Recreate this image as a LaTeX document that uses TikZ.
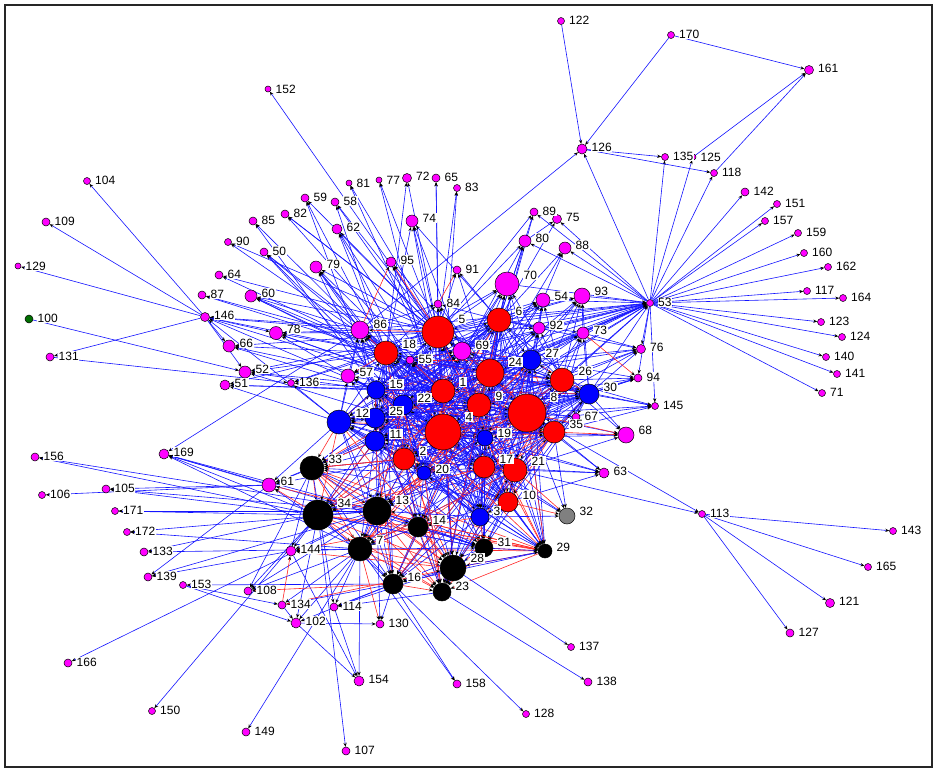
\documentclass[tikz,border=0pt]{standalone}
\usepackage{fontspec}
\setmainfont{Liberation Sans}
\usetikzlibrary{arrows.meta}
\definecolor{dgreen}{RGB}{0,110,0}
\definecolor{pinkn}{RGB}{255,0,255}
\definecolor{rede}{RGB}{255,40,40}
\definecolor{bluee}{RGB}{20,20,255}
\pgfdeclarelayer{edges}
\pgfsetlayers{edges,main}
\tikzset{
  nd/.style={circle,draw=black,line width=0.5pt,inner sep=0pt},
  lbl/.style={anchor=base west,fill=white,inner sep=0.5pt,font=\fontsize{12}{12}\selectfont},
  be/.style={draw=bluee,line width=0.6pt,->},
  re/.style={draw=rede,line width=0.6pt,->},
  frame/.style={draw=black!85,line width=2pt},
}
\def\nodelist{
5/438/332/16/red, 6/499/320/12/red, 18/386/353/12/red, 1/443/391/12/red, 24/490/373/14/red, 9/479/405/12/red, 4/443/432/18/red, 8/527/413/19/red, 26/562/380/12/red, 35/554/432/11/red, 2/404/459/11/red, 17/484/467/11/red, 21/515/470/12/red, 10/508/502/10/red,
15/376/390/9/blue, 22/403/405/10/blue, 25/375/418/10/blue, 12/339/422/12/blue, 11/375/441/10/blue, 27/531/360/10/blue, 30/589/394/10/blue, 19/485/438/8/blue, 20/424/473/7/blue, 3/480/517/9/blue,
33/312/468/12/black, 34/318/515/15/black, 13/377/511/14/black, 14/418/527/10/black, 7/360/549/12/black, 31/484/548/9/black, 29/545/551/7/black, 28/453/568/13/black, 16/393/584/10/black, 23/442/592/9/black,
32/567/516/8/gray, 100/29/319/4/dgreen,
55/410/360/4/pinkn, 57/348/376/7/pinkn, 69/462/351/9/pinkn, 84/438/304/4/pinkn, 86/360/330/9/pinkn, 70/507/284/12/pinkn, 54/543/300/7/pinkn, 93/582/296/8/pinkn, 92/539/328/6/pinkn, 73/583/333/6/pinkn, 67/576/417/4/pinkn, 68/626/435/8/pinkn, 63/604/473/5/pinkn, 76/641/349/4.5/pinkn, 94/638/378/4/pinkn, 145/655/406/3.5/pinkn, 53/650/303/3.5/pinkn,
61/269/485/7/pinkn, 144/291/551/5/pinkn, 108/248/591/4/pinkn, 134/282/605/4/pinkn, 102/296/623/5/pinkn, 114/334/607/4/pinkn, 130/380/624/4/pinkn, 154/359/681/5/pinkn, 158/457/684/4/pinkn, 107/346/751/4/pinkn, 128/526/714/3.5/pinkn, 137/571/647/3.5/pinkn, 138/588/682/4/pinkn, 149/246/732/4/pinkn, 150/152/711/3.5/pinkn, 166/68/663/4/pinkn, 139/148/577/4/pinkn, 153/183/585/3.5/pinkn, 133/144/552/4/pinkn, 172/127/532/3.5/pinkn, 171/115/511/3.5/pinkn, 105/106/489/4/pinkn, 106/42/495/3.5/pinkn, 156/35/457/4/pinkn, 169/164/454/5/pinkn,
51/225/385/5/pinkn, 52/245/372/6/pinkn, 136/291/383/3.5/pinkn, 66/229/346/6/pinkn, 131/50/357/4/pinkn, 146/205/317/4.5/pinkn, 78/276/333/6.5/pinkn, 87/202/295/4/pinkn, 60/251/296/6/pinkn, 64/219/275/4/pinkn, 90/228/242/3.5/pinkn, 50/264/252/4/pinkn, 85/253/221/4/pinkn, 82/285/214/4/pinkn, 59/305/198/4/pinkn, 58/335/202/4/pinkn, 62/337/229/5/pinkn, 81/349/183/3/pinkn, 77/379/180/3/pinkn, 72/407/178/4.5/pinkn, 65/436/178/4/pinkn, 83/457/188/3.5/pinkn, 74/412/221/6/pinkn, 79/316/267/6/pinkn, 95/391/262/5/pinkn, 91/457/270/4/pinkn,
89/534/212/4/pinkn, 75/557/219/4.5/pinkn, 80/525/241/6/pinkn, 88/565/248/6/pinkn, 122/561/21/3.5/pinkn, 170/671/35/3.5/pinkn, 161/809/70/4.5/pinkn, 126/582/149/5/pinkn, 135/665/157/3.5/pinkn, 125/693/157/3/pinkn, 118/714/173/3.5/pinkn, 142/745/192/4/pinkn, 151/777/204/3.5/pinkn, 157/765/221/3.5/pinkn, 159/798/233/3.5/pinkn, 160/804/253/3.5/pinkn, 162/828/267/3.5/pinkn, 117/807/291/3.5/pinkn, 164/843/298/3.5/pinkn, 123/821/322/3.5/pinkn, 124/842/337/3.5/pinkn, 140/826/357/3.5/pinkn, 141/837/374/3.5/pinkn, 71/822/393/3.5/pinkn, 113/702/514/3.5/pinkn, 143/893/531/3.5/pinkn, 165/868/567/3.5/pinkn, 121/830/603/4.5/pinkn, 127/790/633/4/pinkn,
104/87/181/3.5/pinkn, 109/46/222/4/pinkn, 129/18/266/3/pinkn, 152/268/89/3/pinkn}
\def\core{5,6,18,1,24,9,4,8,26,35,2,17,21,10,15,22,25,12,11,27,30,19,20,3,69,55}
\def\corex{5,6,18,1,24,9,4,8,26,35,2,17,21,10,15,22,25,12,11,27,30,19,20,3}
\def\blk{33,34,13,14,7,31,29,28,16,23}
\begin{document}
\begin{tikzpicture}[x=1pt,y=-1pt,>={Stealth[length=4pt,width=3.2pt,color=black]}]
\useasboundingbox (0,0) rectangle (934,772);
\draw[frame] (5,5) rectangle (932,767);
% vertices
\foreach \n/\x/\y/\r/\c in \nodelist {
  \node[nd,fill=\c,minimum size={(2*\r)*1pt}] (n\n) at (\x,\y) {};
}
% labels
\foreach \n/\x/\y/\r/\c in \nodelist {
  \node[lbl] (l\n) at ({\x+\r+4},{\y+7-\r}) {\n};
}
\begin{pgfonlayer}{edges}
% dense core
\foreach \a [count=\i] in \core {
  \foreach \b [count=\j] in \core {
    \ifnum\i<\j
      \pgfmathtruncatemacro\eM{mod(\i*7+\j*5,5)}
      \pgfmathtruncatemacro\eP{mod(\i+\j,2)}
      \ifnum\eP=0 \edef\eA{\a}\edef\eB{\b}\else\edef\eA{\b}\edef\eB{\a}\fi
      \ifnum\eM=0 \draw[re] (n\eA) -- (n\eB);\else \draw[be] (n\eA) -- (n\eB);\fi
    \fi
  }
}
% black cluster
\foreach \a [count=\i] in \blk {
  \foreach \b [count=\j] in \blk {
    \ifnum\i<\j
      \pgfmathtruncatemacro\eM{mod(\i*3+\j,3)}
      \ifnum\eM=0 \draw[be] (n\a) -- (n\b);\else \draw[re] (n\a) -- (n\b);\fi
    \fi
  }
}
% core to black
\foreach \a [count=\i] in \corex {
  \foreach \b [count=\j] in \blk {
    \pgfmathtruncatemacro\eM{mod(\i+\j,3)}
    \pgfmathtruncatemacro\eR{mod(\i*\j+\i,7)}
    \ifnum\eM=0 \draw[be] (n\a) -- (n\b);\fi
    \ifnum\eR=1 \draw[re] (n\a) -- (n\b);\fi
  }
}
% periphery and pink nodes
\foreach \a/\b in {5/152, 5/81, 1/81, 5/77, 4/77, 5/72, 18/72, 5/65, 84/65, 5/83, 1/83,
 5/74, 18/74, 69/74, 6/74, 1/74, 5/79, 18/79, 1/79, 15/79, 86/79, 4/79,
 1/95, 24/95, 9/95, 5/91, 6/91, 24/91, 18/62, 5/62, 1/62, 4/62, 18/58, 5/58, 9/58,
 5/59, 18/59, 15/59, 5/82, 1/82, 24/82, 18/85, 15/85, 5/90, 1/90,
 18/50, 1/50, 22/50, 4/50, 5/64, 18/64, 18/87, 24/87, 5/60, 18/60, 1/60, 86/60, 9/60,
 5/146, 18/146, 86/146, 15/146, 12/146, 1/146,
 146/104, 146/109, 146/129, 146/131, 146/66, 146/52, 146/78,
 5/78, 18/78, 1/78, 86/78, 4/78, 9/78, 5/66, 18/66, 15/66, 1/66,
 100/52, 5/52, 18/52, 1/52, 15/52, 4/52, 5/51, 15/51, 12/51, 1/51,
 131/136, 12/136, 5/136, 1/136, 18/136,
 61/169, 34/169, 13/169, 7/169, 14/169, 86/169,
 34/156, 13/156, 61/106, 13/105, 34/105, 61/105, 34/171, 13/171, 13/172, 7/172, 7/133, 34/133,
 61/139, 144/139, 13/139, 153/102, 153/134, 16/153, 13/166, 34/150, 7/149, 34/107,
 34/144, 13/144, 7/144, 33/144, 13/108, 14/108, 34/108, 33/108, 16/134, 7/134,
 134/102, 7/102, 16/102, 34/102, 16/114, 23/114, 28/114, 7/114, 33/114,
 13/130, 102/130, 16/130, 7/154, 114/154, 144/154, 102/154,
 16/158, 7/158, 16/128, 28/137, 23/138,
 53/126, 53/135, 53/125, 53/118, 53/142, 53/151, 53/157, 53/159, 53/160, 53/162, 53/117, 53/164,
 53/123, 53/124, 53/140, 53/141, 53/71, 53/89, 53/88, 53/75, 53/80, 53/76, 53/94, 53/145,
 122/126, 170/126, 86/126, 126/135, 126/118, 170/161, 125/161, 118/161,
 5/89, 6/89, 24/89, 6/75, 80/75, 5/80, 6/80, 1/80, 24/80, 6/88, 54/88, 24/88,
 8/113, 21/113, 113/143, 113/165, 113/121, 113/127,
 17/32, 3/32, 4/32, 8/32, 35/32, 31/29, 28/29, 3/29, 21/29, 10/29, 17/29,
 14/31, 13/31, 34/31, 17/31, 10/31, 33/61, 7/61, 12/61, 11/61, 2/61,
 5/84, 18/84, 1/84, 6/84, 24/84, 9/84, 86/84,
 1/86, 15/86, 12/86, 22/86, 25/86, 4/86, 9/86, 57/86,
 18/57, 5/57, 15/57, 12/57, 25/57, 22/57, 1/57, 4/57,
 5/70, 6/70, 18/70, 1/70, 24/70, 9/70, 4/70, 8/70, 27/70, 69/70, 26/70,
 6/54, 5/54, 24/54, 27/54, 1/54, 8/54, 9/54, 26/54, 69/54, 92/54,
 6/93, 24/93, 27/93, 26/93, 8/93, 9/93, 5/93, 73/93, 30/93,
 6/92, 24/92, 27/92, 5/92, 1/92, 9/92, 8/92, 26/92,
 27/73, 24/73, 26/73, 8/73, 6/73, 9/73, 30/73, 35/73,
 8/67, 26/67, 35/67, 30/67, 9/67,
 4/68, 19/68, 9/68, 30/68, 26/68, 21/68,
 8/63, 21/63, 35/63, 17/63, 10/63, 19/63, 4/63,
 24/76, 26/76, 8/76, 27/76, 9/76, 30/76, 73/76, 6/76,
 27/94, 26/94, 8/94, 30/94, 4/94, 9/94,
 30/145, 8/145, 26/145, 35/145, 4/145, 24/145,
 5/53, 6/53, 18/53, 1/53, 24/53, 9/53, 4/53, 8/53, 27/53, 26/53, 30/53, 69/53, 86/53,
 57/53, 15/53, 22/53, 12/53, 70/53, 54/53, 93/53, 92/53, 73/53}
 {\draw[be] (n\a) -- (n\b);}
\foreach \a/\b in {86/95, 5/95, 84/91, 18/86, 5/86, 34/61, 13/61, 3/31, 2/33, 11/33, 12/34, 20/13,
 2/34, 10/32, 21/32, 16/108, 14/144, 28/144, 134/144, 134/28, 7/130, 73/94, 8/68, 35/68,
 13/29, 14/29, 1/55, 18/57}
 {\draw[re] (n\a) -- (n\b);}
\end{pgfonlayer}
\end{tikzpicture}
\end{document}
